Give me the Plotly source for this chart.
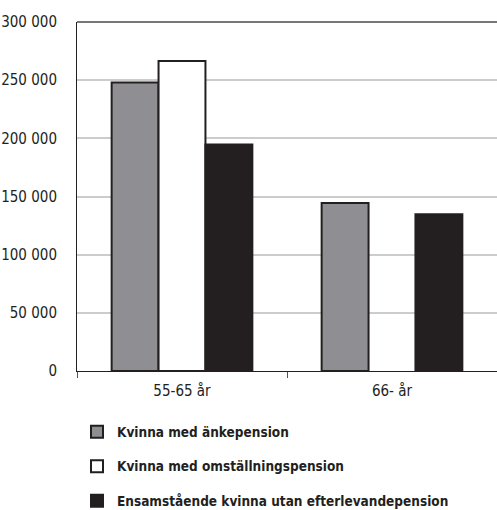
import plotly.graph_objects as go

# Age groups and pension amounts (SEK)
categories = ["55-65 år", "66- år"]
series_names = [
    "Kvinna med änkepension",
    "Kvinna med omställningspension",
    "Ensamstående kvinna utan efterlevandepension",
]
widow_pension = [248000, 144500]
adjustment_pension = [266500, None]
single_no_survivor = [194800, 134700]
y_tick_values = [0, 50000, 100000, 150000, 200000, 250000, 300000]
y_tick_labels = ["0", "50 000", "100 000", "150 000", "200 000", "250 000", "300 000"]

fills = ["#8f8f93", "#ffffff", "#231f20"]
outline = "#231f20"
series_values = [widow_pension, adjustment_pension, single_no_survivor]

fig = go.Figure()
for i, (name, vals, col) in enumerate(zip(series_names, series_values, fills)):
    fig.add_trace(go.Bar(
        x=categories, y=vals, name=name,
        marker=dict(color=col, line=dict(color=outline, width=2)),
        legendgroup=f"g{i}",
    ))

base_font = "DejaVu Sans Condensed, Liberation Sans Narrow, sans-serif"

fig.update_layout(
    width=497, height=510,
    margin=dict(l=77, r=0, t=22, b=139, autoexpand=False),
    paper_bgcolor="white", plot_bgcolor="white",
    barmode="group", bargap=0.33, bargroupgap=0,
    font=dict(family=base_font, size=15, color="#231f20"),
    showlegend=True,
    legend=dict(
        x=0.0, y=-0.13, xanchor="left", yanchor="top",
        orientation="v", traceorder="grouped", tracegroupgap=14,
        font=dict(family=base_font, size=13.5, color="#231f20", weight="bold"),
        itemwidth=30, bgcolor="rgba(0,0,0,0)",
    ),
    xaxis=dict(
        showline=True, linecolor="#231f20", linewidth=1,
        ticks="outside", tickson="boundaries", ticklen=6, tickcolor="#555555",
        tickfont=dict(size=15), showgrid=False, ticklabelstandoff=6,
    ),
    yaxis=dict(
        range=[0, 300000], tickvals=y_tick_values, ticktext=y_tick_labels,
        showline=True, linecolor="#231f20", linewidth=1,
        showgrid=True, gridcolor="#cccccc", gridwidth=2,
        ticks="", ticklabelstandoff=16, tickfont=dict(size=15),
        zeroline=False,
    ),
    shapes=[dict(type="line", xref="paper", yref="paper", x0=0, x1=1, y0=1, y1=1,
                 line=dict(color="#777777", width=2))],
)

fig.write_html("out.html")
